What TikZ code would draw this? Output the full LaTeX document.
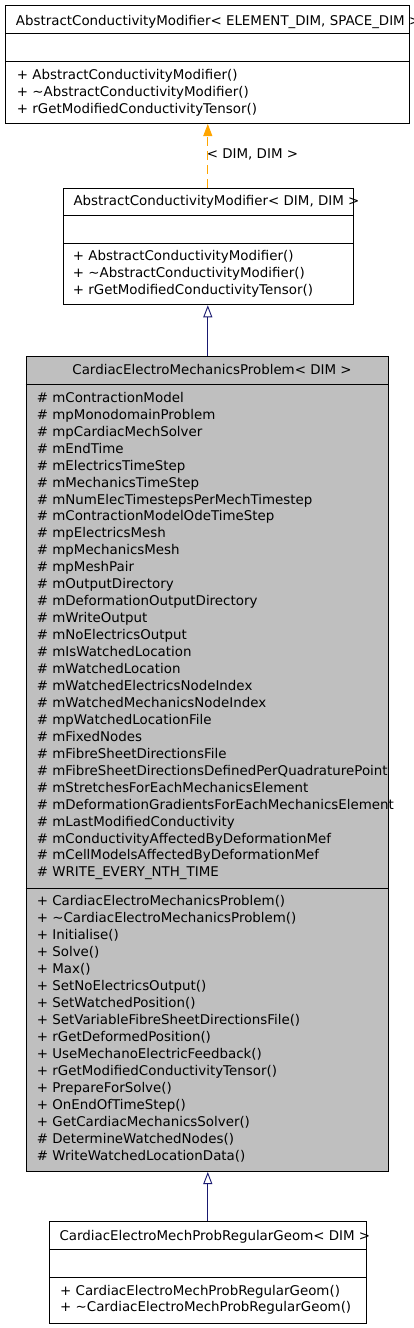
\documentclass[tikz,border=0pt]{standalone}
\usepackage{fontspec}
\setmainfont{DejaVu Sans}
\usetikzlibrary{arrows.meta}
\definecolor{edgeblue}{HTML}{191970}
\definecolor{edgeorange}{HTML}{FFA500}
\definecolor{classgray}{HTML}{BFBFBF}
\tikzset{
  umlbox/.style={draw=black, line width=1pt, inner sep=0pt, anchor=north west},
  sepline/.style={draw=black, line width=1pt},
  txt/.style={anchor=base west, inner sep=0pt, font=\fontsize{13.4}{16}\selectfont},
  inherit/.style={draw=edgeblue, line width=0.9pt, -{Triangle[open, width=9pt, length=12pt, fill=white]}},
  templ/.style={draw=edgeorange, line width=0.9pt, dash pattern=on 9pt off 5pt, -{Triangle[width=9pt, length=12pt]}},
}
\begin{document}
\begin{tikzpicture}[x=1pt, y=-1pt]
\useasboundingbox (0,0) rectangle (413,1328);
% Box 1
\node[umlbox, minimum width=404pt, minimum height=117.7pt] (b1) at (5.3,5.3) {};
\draw[sepline] (b1.west |- 0,33.3) -- (b1.east |- 0,33.3);
\draw[sepline] (b1.west |- 0,61.3) -- (b1.east |- 0,61.3);
\begin{scope}
\clip (0,0) rectangle (413,1328);
\node[txt] (t1) at (15.7,25) {AbstractConductivityModifier< ELEMENT\_DIM, SPACE\_DIM >};
\end{scope}
\node[txt] (m1a) at (16.7,79.7) {+ AbstractConductivityModifier()};
\node[txt] (m1b) at (16.7,96.3) {+ \textasciitilde AbstractConductivityModifier()};
\node[txt] (m1c) at (16.7,113) {+ rGetModifiedConductivityTensor()};
% Box 2
\node[umlbox, minimum width=289.4pt, minimum height=116.6pt] (b2) at (63.3,187.7) {};
\draw[sepline] (b2.west |- 0,215.7) -- (b2.east |- 0,215.7);
\draw[sepline] (b2.west |- 0,243.7) -- (b2.east |- 0,243.7);
\node[txt] (t2) at (73.3,205) {AbstractConductivityModifier< DIM, DIM >};
\node[txt] (m2a) at (72.7,260.7) {+ AbstractConductivityModifier()};
\node[txt] (m2b) at (72.7,277.5) {+ \textasciitilde AbstractConductivityModifier()};
\node[txt] (m2c) at (72.7,294.3) {+ rGetModifiedConductivityTensor()};
% Box 3
\node[umlbox, fill=classgray, minimum width=362.8pt, minimum height=815pt] (b3) at (25.5,356) {};
\draw[sepline] (b3.west |- 0,384.3) -- (b3.east |- 0,384.3);
\draw[sepline] (b3.west |- 0,888.3) -- (b3.east |- 0,888.3);
\node[txt, anchor=base] (t3) at (212,374.5) {CardiacElectroMechanicsProblem< DIM >};
\foreach \t [count=\i] in {mContractionModel, mpMonodomainProblem, mpCardiacMechSolver, mEndTime, mElectricsTimeStep, mMechanicsTimeStep, mNumElecTimestepsPerMechTimestep, mContractionModelOdeTimeStep, mpElectricsMesh, mpMechanicsMesh, mpMeshPair, mOutputDirectory, mDeformationOutputDirectory, mWriteOutput, mNoElectricsOutput, mIsWatchedLocation, mWatchedLocation, mWatchedElectricsNodeIndex, mWatchedMechanicsNodeIndex, mpWatchedLocationFile, mFixedNodes, mFibreSheetDirectionsFile, mFibreSheetDirectionsDefinedPerQuadraturePoint, mStretchesForEachMechanicsElement, mDeformationGradientsForEachMechanicsElement, mLastModifiedConductivity, mConductivityAffectedByDeformationMef, mCellModelsAffectedByDeformationMef, WRITE\_EVERY\_NTH\_TIME}
  \node[txt] (a\i) at (36.7,{397.3+(\i-1)*16.95+5}) {\# \t};
\foreach \t [count=\i] in {+ CardiacElectroMechanicsProblem(), + \textasciitilde CardiacElectroMechanicsProblem(), + Initialise(), + Solve(), + Max(), + SetNoElectricsOutput(), + SetWatchedPosition(), + SetVariableFibreSheetDirectionsFile(), + rGetDeformedPosition(), + UseMechanoElectricFeedback(), + rGetModifiedConductivityTensor(), + PrepareForSolve(), + OnEndOfTimeStep(), + GetCardiacMechanicsSolver(), \# DetermineWatchedNodes(), \# WriteWatchedLocationData()}
  \node[txt] (o\i) at (36.7,{900.7+(\i-1)*17+5}) {\t};
% Box 4
\node[umlbox, minimum width=316.4pt, minimum height=101.7pt] (b4) at (49.3,1221.3) {};
\draw[sepline] (b4.west |- 0,1249) -- (b4.east |- 0,1249);
\draw[sepline] (b4.west |- 0,1277) -- (b4.east |- 0,1277);
\node[txt] (t4) at (59.3,1240.7) {CardiacElectroMechProbRegularGeom< DIM >};
\node[txt] (m4a) at (60,1295.7) {+ CardiacElectroMechProbRegularGeom()};
\node[txt] (m4b) at (60,1311.7) {+ \textasciitilde CardiacElectroMechProbRegularGeom()};
% Connectors
\draw[templ] (b2.north -| b1.south) -- (b1.south);
\node[txt] (lbl) at (206.7,158.3) {< DIM, DIM >};
\draw[inherit] (b3.north -| b1.south) -- (b2.south -| b1.south);
\draw[inherit] (b4.north -| b1.south) -- (b3.south -| b1.south);
\end{tikzpicture}
\end{document}
